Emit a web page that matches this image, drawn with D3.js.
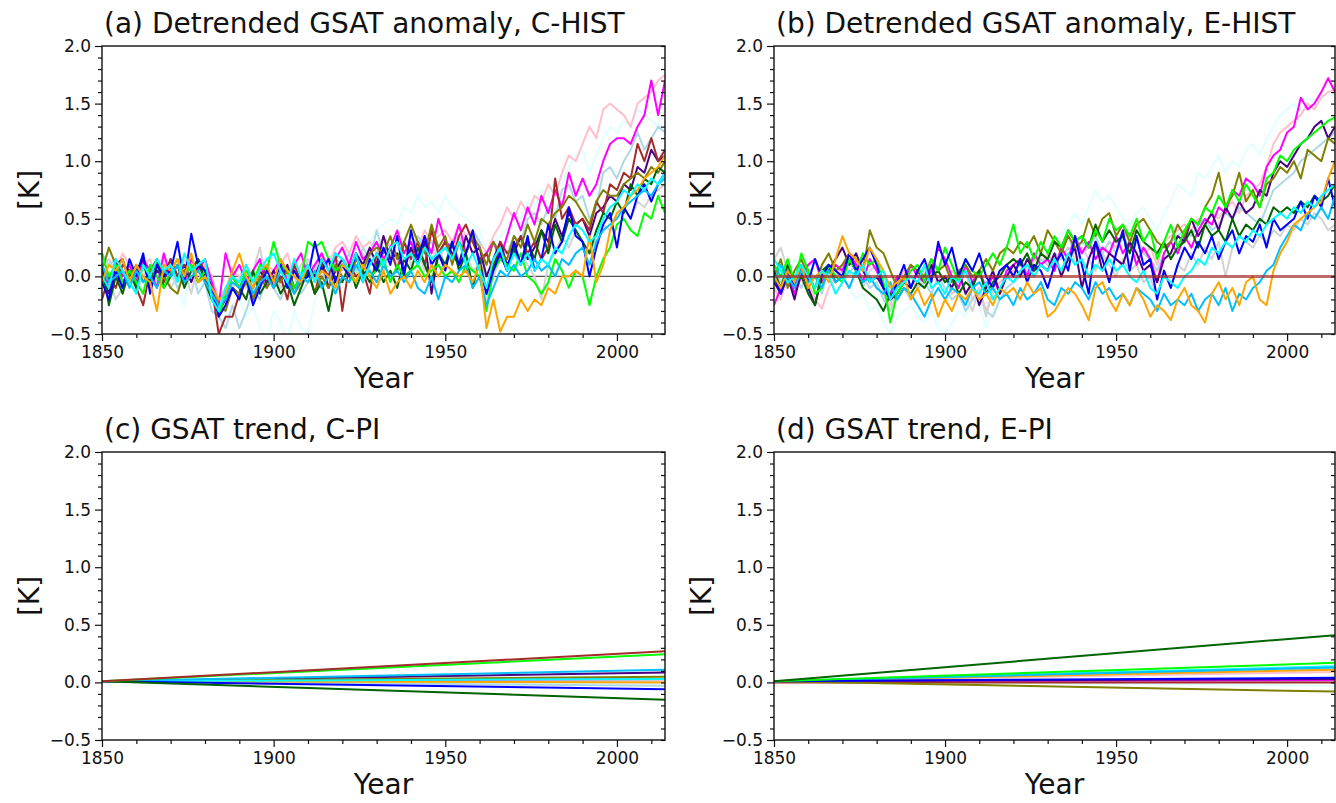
<!DOCTYPE html>
<html><head><meta charset="utf-8">
<script src="https://cdn.jsdelivr.net/npm/d3@7"></script>
<style>body{margin:0;background:#fff} svg{display:block} text{font-family:"DejaVu Sans",sans-serif;fill:#111}</style>
</head><body><svg id="chart" width="1336" height="803"></svg>
<script>
// ---------- categories ----------
const years = [1850,1852,1854,1856,1858,1860,1862,1864,1866,1868,1870,1872,1874,1876,1878,1880,1882,1884,1886,1888,
1890,1892,1894,1896,1898,1900,1902,1904,1906,1908,1910,1912,1914,1916,1918,1920,1922,1924,1926,1928,
1930,1932,1934,1936,1938,1940,1942,1944,1946,1948,1950,1952,1954,1956,1958,1960,1962,1964,1966,1968,
1970,1972,1974,1976,1978,1980,1982,1984,1986,1988,1990,1992,1994,1996,1998,2000,2002,2004,2006,2008,
2010,2012,2014];
const xTicksMajor = [1850, 1900, 1950, 2000];
const xTicksMinor = [1860,1870,1880,1890,1910,1920,1930,1940,1960,1970,1980,1990,2010];
const yTicksMajor = [-0.5, 0.0, 0.5, 1.0, 1.5, 2.0];
const yTicksMinor = [-0.4,-0.3,-0.2,-0.1,0.1,0.2,0.3,0.4,0.6,0.7,0.8,0.9,1.1,1.2,1.3,1.4,1.6,1.7,1.8,1.9];
const titles = ["(a) Detrended GSAT anomaly, C-HIST","(b) Detrended GSAT anomaly, E-HIST","(c) GSAT trend, C-PI","(d) GSAT trend, E-PI"];

// ---------- panel (a): C-HIST ----------
const a_lightcyan = [0.1,0.2,0.0,0.15,0.05, 0.1,0.2,0.05,0.1,-0.05, 0.0,-0.1,-0.25,0.05,-0.1, 0.0,-0.15,-0.2,-0.35,-0.3,
-0.2,-0.35,-0.25,-0.45,-0.55, -0.3,-0.4,-0.55,-0.3,-0.45, -0.5,-0.2,-0.1,0.05,0.1, 0.15,0.25,0.3,0.35,0.3,
0.4,0.45,0.5,0.45,0.6, 0.55,0.7,0.6,0.65,0.55, 0.7,0.6,0.55,0.5,0.45, 0.4,0.2,0.3,0.35,0.4,
0.55,0.5,0.65,0.6,0.75, 0.7,0.85,0.8,0.95,1.05, 1.1,0.9,1.05,1.2,1.3, 1.25,1.35,1.3,1.45,1.4, 1.35,1.3,1.45];
const a_pink = [0.1,0.15,0.05,0.2,0.1, 0.0,0.1,0.15,-0.05,0.05, 0.1,0.0,0.15,0.05,-0.05, 0.1,0.0,-0.2,-0.1,0.05,
0.0,0.1,0.0,-0.05,0.1, 0.05,0.1,0.2,0.0,0.1, 0.15,0.05,0.2,0.1,0.25, 0.3,0.2,0.35,0.25,0.3,
0.2,0.35,0.25,0.3,0.2, 0.35,0.25,0.4,0.3,0.35, 0.4,0.3,0.45,0.35,0.4, 0.3,0.2,0.35,0.45,0.6,
0.5,0.65,0.55,0.7,0.65, 0.8,0.7,0.9,1.05,1.0, 1.15,1.3,1.2,1.45,1.5, 1.45,1.4,1.3,1.5,1.55, 1.6,1.7,1.75];
const a_lightblue = [0.2,0.1,0.15,0.0,0.05, -0.05,0.1,0.0,0.15,-0.1, 0.05,-0.1,0.0,0.1,-0.15, -0.05,-0.3,-0.35,-0.45,-0.25,
-0.45,-0.3,-0.1,-0.2,0.0, -0.1,-0.2,-0.05,0.0,-0.15, -0.05,0.1,0.05,-0.1,0.15, 0.1,0.2,0.05,0.25,0.15,
0.4,0.2,0.25,0.15,0.3, 0.2,0.35,0.25,0.3,0.15, 0.25,0.3,0.35,0.2,0.4, 0.3,-0.15,0.1,0.25,0.2,
0.35,0.3,0.5,0.55,0.45, 0.6,0.5,0.75,0.8,0.65, 0.7,0.5,0.6,0.9,0.95, 0.85,1.0,1.1,1.25,1.1, 1.2,1.3,1.25];
const a_lightgray = [0.1,0.0,-0.2,-0.1,0.05, -0.15,0.0,0.1,-0.05,0.15, -0.1,0.0,0.05,-0.15,0.1, -0.05,-0.2,-0.3,-0.25,-0.1,
0.0,-0.1,0.05,0.25,-0.05, 0.05,-0.1,0.0,0.1,-0.05, 0.15,0.05,-0.1,0.0,0.1, 0.05,0.15,0.0,0.2,0.1,
0.15,0.05,0.2,0.1,0.3, 0.1,0.2,0.05,0.15,0.25, 0.1,0.3,0.15,0.2,0.05, 0.1,-0.2,0.0,0.15,0.1,
0.05,0.2,0.1,0.0,-0.2, 0.1,0.2,0.35,0.25,0.4, 0.3,0.2,0.35,0.45,0.4, 0.55,0.6,0.5,0.65,0.6, 0.7,0.75,0.8];
const a_magenta = [0.05,-0.1,0.15,0.0,0.1, -0.05,0.15,0.05,-0.1,0.2, 0.0,0.1,-0.05,0.15,0.05, 0.15,-0.05,-0.25,0.2,0.0,
0.1,-0.05,0.05,0.15,-0.1, 0.05,0.15,-0.05,0.1,0.2, 0.0,0.1,0.2,0.05,0.15, 0.25,0.1,0.3,0.15,0.2,
0.3,0.15,0.25,0.4,0.2, 0.3,0.15,0.35,0.2,0.5, 0.3,0.25,0.45,0.2,0.35, 0.1,0.2,0.3,0.15,0.35,
0.55,0.4,0.6,0.45,0.7, 0.55,0.75,0.6,0.9,0.7, 0.85,0.7,0.8,1.0,1.15, 1.2,1.2,1.15,1.3,1.4, 1.7,1.4,1.7];
const a_indigo = [0.0,-0.15,0.1,0.15,-0.05, 0.05,0.15,-0.1,0.05,0.0, 0.15,0.0,0.1,-0.05,0.1, 0.0,-0.15,-0.3,-0.2,-0.1,
-0.15,0.0,-0.1,0.05,-0.05, 0.05,-0.05,0.1,-0.1,0.0, 0.1,0.0,0.15,-0.1,0.05, 0.15,0.05,0.2,0.1,0.25,
0.1,0.35,0.15,0.2,0.05, 0.25,0.1,0.3,-0.15,0.2, 0.3,0.2,0.1,0.35,0.2, 0.25,0.0,0.15,0.3,0.1,
0.2,0.35,0.15,0.25,0.4, 0.3,0.5,0.35,0.55,0.45, 0.5,0.35,0.55,0.6,0.7, 0.65,0.8,0.75,0.95,0.9, 1.1,1.0,1.05];
const a_brown = [-0.2,0.0,-0.1,0.1,0.05, -0.1,-0.25,0.05,0.1,-0.05, 0.15,0.0,0.1,0.05,0.15, 0.05,-0.1,-0.5,-0.35,-0.35,
-0.15,0.0,-0.2,-0.05,0.1, -0.1,0.0,-0.2,0.1,-0.05, 0.05,-0.15,0.1,0.0,0.2, -0.3,0.1,0.0,0.05,-0.15,
0.2,0.1,0.25,0.05,0.3, 0.15,0.3,0.1,0.4,0.2, 0.3,0.15,0.35,0.45,0.3, 0.15,0.2,0.05,0.3,0.2,
0.25,0.35,0.2,0.3,0.15, 0.25,0.85,0.5,0.6,0.45, 0.5,0.4,0.65,0.55,0.8, 0.75,0.9,0.85,1.15,1.0, 1.2,1.0,1.1];
const a_olive = [0.05,0.25,0.1,-0.05,0.0, 0.1,-0.05,0.05,0.15,0.0, -0.1,-0.15,0.05,0.1,-0.05, 0.0,-0.1,-0.25,-0.3,-0.1,
-0.15,-0.05,-0.2,0.0,-0.1, 0.0,-0.05,0.05,-0.15,-0.05, 0.05,-0.15,0.0,-0.1,0.1, 0.0,-0.05,0.15,0.05,0.2,
0.25,0.2,0.35,0.15,0.3, 0.45,0.3,0.2,0.45,0.25, 0.35,0.1,0.3,0.2,0.35, 0.25,0.1,0.3,0.2,0.15,
0.35,0.25,0.45,0.3,0.5, 0.45,0.55,0.6,0.7,0.65, 0.55,0.45,0.65,0.75,0.7, 0.7,0.8,0.85,0.9,0.85, 0.95,0.9,1.0];
const a_darkgreen = [0.1,-0.25,0.0,-0.15,0.05, -0.1,0.1,-0.05,0.15,-0.1, 0.0,0.1,-0.1,0.05,0.15, -0.05,-0.2,-0.3,-0.15,0.0,
-0.1,-0.2,0.05,-0.15,-0.05, 0.0,-0.15,-0.05,-0.25,-0.1, 0.05,-0.15,-0.05,-0.3,0.0, -0.05,0.1,-0.1,0.05,-0.05,
0.1,-0.05,0.05,-0.1,0.15, 0.05,0.25,0.1,-0.05,0.2, 0.1,0.3,0.05,0.2,-0.1, 0.15,-0.15,0.1,0.2,0.05,
0.25,0.1,0.3,0.15,0.4, 0.2,0.45,0.3,0.5,0.4, 0.3,0.2,0.4,0.55,0.5, 0.65,0.55,0.8,0.7,0.85, 0.8,0.95,0.9];
const a_lime = [0.2,0.0,0.1,-0.05,0.05, -0.05,-0.15,0.1,0.0,-0.1, 0.05,0.15,0.0,0.1,-0.05, 0.05,-0.1,-0.35,-0.15,0.0,
-0.1,0.05,-0.05,0.1,0.05, 0.3,0.1,0.05,-0.1,0.0, 0.3,0.25,0.3,0.15,0.05, 0.1,0.0,-0.05,0.1,0.0,
0.05,0.15,-0.05,0.1,0.0, 0.05,0.1,0.0,0.05,0.1, 0.0,0.05,-0.05,0.1,0.05, 0.0,-0.3,0.05,0.15,0.1,
0.05,0.2,0.0,-0.05,-0.15, -0.05,0.15,0.05,-0.1,0.05, 0.0,-0.25,0.0,0.15,0.25, 0.45,0.5,0.4,0.35,0.55, 0.5,0.7,0.55];
const a_blue = [-0.05,-0.2,0.05,-0.1,0.15, 0.0,0.2,-0.15,0.1,0.0, 0.05,0.3,-0.05,0.37,0.1, 0.05,-0.1,-0.35,-0.25,-0.1,
-0.2,0.0,-0.25,-0.1,0.05, -0.05,0.1,-0.1,0.05,-0.05, 0.0,0.3,0.05,0.15,-0.05, 0.1,0.0,0.2,-0.05,0.15,
0.05,0.25,0.1,0.35,0.0, 0.4,0.15,0.35,0.1,0.2, 0.05,0.3,0.1,0.2,0.4, 0.1,-0.15,0.05,0.2,0.05,
0.3,0.1,0.35,0.05,0.15, 0.45,0.2,0.3,0.6,0.35, 0.3,0.0,0.25,0.45,0.55, 0.25,0.6,0.5,0.7,0.8, 0.65,0.8,0.9];
const a_deepskyblue = [0.1,-0.05,0.0,0.05,-0.1, 0.05,-0.05,0.0,-0.1,0.05, 0.0,0.1,-0.05,0.0,0.05, -0.05,-0.15,-0.25,-0.2,-0.05,
-0.1,0.0,-0.15,-0.05,0.0, -0.1,0.05,-0.05,-0.15,0.0, -0.05,0.05,-0.1,0.0,-0.15, 0.0,-0.05,0.1,0.0,0.05,
-0.05,0.1,0.0,0.05,-0.05, 0.05,-0.1,-0.15,0.0,-0.2, 0.0,-0.05,0.05,0.1,-0.1, 0.0,-0.25,-0.1,0.05,0.0,
0.1,0.0,0.05,0.15,0.05, 0.1,0.0,0.15,0.1,0.2, 0.25,0.1,0.3,0.4,0.45, 0.5,0.6,0.65,0.7,0.75, 0.7,0.8,0.85];
const a_orange = [-0.05,0.1,0.05,0.15,-0.05, 0.1,0.0,-0.05,-0.3,0.1, 0.05,0.15,0.0,0.2,-0.05, 0.0,-0.1,-0.2,-0.15,0.05,
0.2,0.0,-0.1,0.05,0.1, -0.05,0.15,0.05,0.0,-0.05, 0.1,-0.05,0.05,0.0,-0.1, 0.1,0.05,-0.05,0.1,0.0,
-0.1,0.05,-0.15,-0.05,0.0, -0.1,0.05,-0.05,0.1,0.0, 0.1,0.05,0.0,0.05,-0.05, 0.1,-0.45,-0.2,-0.48,-0.35,
-0.35,-0.2,-0.3,-0.2,-0.25, -0.1,-0.15,0.0,0.0,0.05, 0.0,0.35,-0.05,0.1,0.4, 0.55,0.6,0.7,0.75,0.85, 0.9,0.95,1.05];
const a_cyan = [0.0,-0.1,0.15,0.05,-0.05, -0.15,0.1,0.0,0.15,0.05, 0.1,-0.05,0.2,0.05,0.1, 0.15,-0.2,-0.3,-0.1,0.0,
-0.05,0.1,-0.05,0.05,0.15, 0.2,0.05,-0.05,0.15,0.0, 0.1,-0.05,0.15,0.05,0.2, 0.15,0.05,0.2,-0.05,0.1,
0.2,0.1,0.25,0.3,0.15, 0.2,0.1,0.25,0.15,0.2, 0.25,0.15,0.3,0.1,0.2, 0.05,-0.1,0.15,0.25,0.05,
0.2,0.1,0.2,0.05,0.15, 0.1,0.25,0.2,0.35,0.45, 0.4,0.3,0.35,0.5,0.6, 0.65,0.75,0.7,0.8,0.75, 0.85,0.8,0.9];

// ---------- panel (b): E-HIST ----------
const b_lightcyan = [0.05,0.1,0.0,0.15,0.05, 0.1,-0.05,0.05,0.0,0.1, 0.05,-0.1,-0.2,-0.15,-0.3, -0.25,-0.4,-0.5,-0.35,-0.3,
-0.25,-0.35,-0.4,-0.3,-0.45, -0.5,-0.4,-0.3,-0.35,-0.2, -0.25,-0.45,-0.3,-0.15,-0.05, 0.0,0.05,0.15,0.1,0.2,
0.25,0.3,0.35,0.45,0.55, 0.45,0.6,0.75,0.65,0.7, 0.6,0.5,0.45,0.55,0.6, 0.5,0.4,0.55,0.65,0.8,
0.75,0.7,0.9,0.85,0.95, 1.05,0.9,1.0,0.95,1.1, 1.15,1.05,1.2,1.3,1.4, 1.45,1.5,1.4,1.55,1.5, 1.55,1.6,1.55];
const b_pink = [-0.1,-0.2,0.0,-0.1,0.05, -0.05,-0.2,-0.28,-0.1,0.0, 0.1,0.2,0.15,0.05,0.0, -0.1,-0.15,-0.25,-0.1,0.05,
0.0,-0.1,0.05,0.15,-0.05, 0.0,-0.15,-0.1,0.05,-0.2, -0.1,-0.3,-0.15,-0.05,0.0, 0.05,0.1,0.0,0.15,0.1,
0.2,0.1,0.25,0.15,0.3, 0.2,0.25,0.35,0.2,0.3, 0.25,0.4,0.3,0.35,0.2, 0.25,0.1,0.3,0.35,0.4,
0.45,0.4,0.5,0.45,0.55, 0.5,0.6,0.65,0.55,0.7, 0.75,0.8,0.95,1.15,1.25, 1.3,1.35,1.4,1.5,1.45, 1.55,1.6,1.62];
const b_lightblue = [0.1,-0.05,0.05,0.0,-0.1, 0.05,0.0,-0.15,0.1,-0.05, 0.0,-0.1,0.05,0.0,-0.1, -0.05,-0.2,-0.3,-0.15,-0.1,
-0.2,-0.1,-0.05,-0.15,0.0, -0.1,-0.2,-0.15,-0.3,-0.2, -0.15,-0.3,-0.35,-0.2,-0.1, -0.05,0.0,0.1,0.05,0.15,
0.1,0.2,0.15,0.25,0.2, 0.3,0.25,0.35,0.2,0.3, 0.2,0.35,0.25,0.3,0.2, 0.15,0.05,0.2,0.3,0.35,
0.4,0.35,0.45,0.5,0.4, 0.45,0.55,0.5,0.6,0.55, 0.5,0.45,0.6,0.75,0.8, 0.85,0.9,1.0,1.05,1.1, 1.15,1.2,1.25];
const b_lightgray = [0.15,0.25,0.05,-0.05,0.1, 0.05,-0.1,-0.05,0.1,0.0, 0.05,0.0,0.15,-0.1,0.05, 0.1,-0.15,-0.3,-0.1,0.0,
0.1,0.0,-0.1,0.05,0.0, -0.05,0.05,0.0,-0.15,-0.3, -0.1,-0.35,-0.1,0.05,0.1, 0.0,0.15,0.05,0.2,0.1,
0.15,0.05,0.2,0.4,0.1, 0.25,0.15,0.05,0.2,0.1, 0.0,0.15,0.05,0.1,-0.05, 0.0,-0.2,0.05,-0.1,0.1,
0.05,0.2,0.1,0.25,0.15, 0.3,0.0,0.25,0.35,0.3, 0.25,0.35,0.3,0.4,0.35, 0.45,0.4,0.5,0.45,0.55, 0.5,0.4,0.45];
const b_magenta = [-0.25,-0.1,0.05,-0.15,0.0, 0.1,0.15,-0.05,0.05,0.1, 0.05,0.2,0.1,-0.05,0.15, 0.05,-0.1,-0.15,0.0,-0.05,
0.1,0.0,-0.05,0.05,0.25, 0.15,0.0,-0.1,0.1,-0.05, 0.05,-0.1,0.0,-0.15,0.05, 0.1,0.15,0.0,0.2,0.1,
0.15,0.05,0.25,0.15,0.35, 0.2,0.3,0.15,0.25,0.2, 0.35,0.2,0.3,0.1,0.25, 0.15,-0.05,0.2,0.3,0.2,
0.35,0.25,0.4,0.5,0.45, 0.6,0.55,0.75,0.7,0.85, 0.8,0.7,0.95,1.05,1.1, 1.25,1.3,1.55,1.45,1.5, 1.6,1.72,1.6];
const b_indigo = [-0.05,-0.15,0.0,-0.2,0.05, -0.1,-0.25,0.0,0.05,0.15, 0.25,0.1,0.2,0.05,-0.05, 0.0,-0.1,-0.2,-0.15,-0.05,
-0.1,0.05,-0.05,0.1,-0.05, 0.0,-0.1,0.05,-0.15,-0.05, -0.25,-0.1,0.05,-0.15,0.0, 0.1,0.0,0.15,0.05,0.1,
0.05,0.2,0.0,0.15,0.25, -0.1,0.15,0.3,0.05,0.2, 0.15,0.1,0.3,0.2,0.05, 0.1,-0.05,0.15,0.2,0.35,
0.3,0.5,0.35,0.45,0.55, 0.4,0.6,0.5,0.65,0.55, 0.6,0.75,0.7,0.9,1.0, 0.95,1.05,1.15,1.2,1.3, 1.35,1.2,1.3];
const b_olive = [0.0,0.15,-0.1,0.05,0.15, 0.0,-0.1,0.1,0.2,0.05, 0.1,0.2,0.15,0.05,0.4, 0.25,0.2,0.05,-0.1,0.0,
0.1,0.05,0.0,0.15,0.05, 0.1,-0.05,0.05,0.1,0.0, 0.05,0.15,0.05,0.2,0.25, 0.2,0.3,0.25,0.35,0.2,
0.4,0.3,0.2,0.35,0.25, 0.3,0.5,0.35,0.5,0.55, 0.35,0.45,0.3,0.45,0.5, 0.4,0.3,0.25,0.3,0.45,
0.35,0.5,0.45,0.6,0.7, 0.9,0.6,0.7,0.9,0.65, 0.75,0.6,0.8,0.85,0.95, 0.9,1.0,0.85,1.1,1.05, 1.0,1.2,1.15];
const b_darkgreen = [0.05,-0.1,0.1,-0.05,0.0, -0.15,-0.25,0.05,0.1,-0.05, 0.0,0.15,0.05,-0.1,-0.15, -0.2,-0.3,-0.15,-0.2,-0.1,
-0.15,-0.05,-0.1,0.0,0.05, -0.05,0.0,-0.15,-0.05,-0.1, 0.05,-0.15,-0.05,0.0,0.1, 0.15,0.1,0.2,0.05,0.2,
0.15,0.3,0.25,0.4,0.3, 0.35,0.25,0.45,0.3,0.4, 0.3,0.35,0.2,0.4,0.3, 0.25,0.2,0.3,0.15,0.25,
0.3,0.4,0.25,0.45,0.35, 0.4,0.3,0.5,0.35,0.45, 0.4,0.5,0.45,0.6,0.55, 0.6,0.55,0.65,0.6,0.7, 0.65,0.7,0.8];
const b_lime = [0.1,0.0,0.15,-0.05,0.2, 0.05,-0.15,-0.1,0.1,0.0, -0.05,0.15,0.05,0.2,0.1, 0.15,-0.05,-0.4,-0.15,-0.05,
0.05,0.1,-0.05,0.15,0.05, 0.25,0.1,-0.05,0.15,0.05, 0.0,0.1,0.2,0.1,0.25, 0.45,0.2,0.3,0.15,0.3,
0.2,0.35,0.25,0.4,0.3, 0.35,0.25,0.4,0.3,0.5, 0.4,0.45,0.35,0.5,0.3, 0.4,0.15,0.3,0.45,0.25,
0.4,0.5,0.45,0.6,0.55, 0.7,0.6,0.75,0.65,0.8, 0.7,0.6,0.85,0.9,1.05, 1.0,1.1,1.15,1.2,1.25, 1.3,1.35,1.38];
const b_blue = [0.0,-0.15,0.05,-0.1,0.1, -0.05,0.15,0.0,0.1,0.05, 0.0,0.2,0.05,0.15,0.25, 0.1,-0.1,-0.2,-0.05,0.1,
-0.1,0.05,0.15,-0.05,0.3, 0.1,0.25,0.0,0.15,0.05, 0.2,0.0,-0.1,0.05,0.1, 0.0,0.15,-0.05,0.1,0.05,
-0.1,0.1,0.2,0.05,0.35, 0.1,-0.15,0.3,0.15,-0.05, 0.2,0.4,0.05,0.35,0.1, 0.15,-0.2,0.05,-0.1,0.1,
0.25,0.15,0.3,0.2,0.35, 0.15,0.3,0.4,0.2,0.35, 0.3,0.45,0.25,0.5,0.4, 0.45,0.5,0.65,0.5,0.7, 0.6,0.85,0.6];
const b_deepskyblue = [-0.05,0.1,0.0,-0.1,0.05, -0.05,0.0,-0.1,0.05,-0.05, 0.0,-0.1,0.05,-0.05,0.0, -0.1,-0.15,-0.05,-0.2,-0.1,
-0.15,-0.25,-0.35,-0.2,-0.1, -0.2,-0.1,-0.15,-0.25,-0.1, -0.05,-0.15,-0.1,-0.2,-0.15, -0.25,-0.1,-0.2,-0.15,-0.05,
-0.2,-0.25,-0.1,-0.15,-0.05, -0.1,-0.2,-0.05,-0.15,-0.1, -0.2,-0.15,-0.25,-0.1,-0.15, -0.2,-0.3,-0.15,-0.25,-0.2,
-0.25,-0.15,-0.3,-0.2,-0.15, -0.25,-0.1,-0.3,-0.15,-0.2, -0.1,-0.05,0.05,0.1,0.25, 0.35,0.45,0.4,0.55,0.5, 0.6,0.5,0.7];
const b_orange = [0.0,-0.1,0.05,-0.05,0.1, -0.1,0.0,0.05,-0.05,0.15, 0.35,0.2,0.15,0.05,0.25, 0.15,0.05,-0.1,-0.05,0.0,
-0.2,-0.1,-0.25,-0.15,-0.35, -0.2,-0.3,-0.15,-0.2,-0.1, -0.2,-0.15,-0.25,-0.1,-0.15, -0.1,-0.2,-0.05,-0.15,-0.1,
-0.35,-0.3,-0.2,-0.1,-0.15, -0.25,-0.38,-0.1,-0.05,-0.2, -0.3,-0.15,-0.25,-0.1,-0.2, -0.35,-0.25,-0.3,-0.38,-0.2,
-0.1,-0.25,-0.3,-0.4,-0.15, -0.05,-0.2,-0.1,-0.25,-0.05, 0.0,-0.2,-0.25,0.05,0.2, 0.3,0.45,0.5,0.55,0.6, 0.65,0.85,1.0];
const b_cyan = [0.15,0.05,-0.05,0.0,0.1, 0.0,-0.1,0.05,0.0,-0.15, -0.05,0.05,0.0,0.1,-0.05, 0.0,0.05,-0.2,-0.1,-0.05,
0.0,-0.05,0.1,-0.1,-0.05, -0.15,0.0,-0.05,0.05,-0.1, -0.15,-0.05,-0.2,-0.1,0.0, -0.05,0.05,0.1,0.0,0.1,
0.05,0.15,0.05,0.2,0.1, 0.15,0.0,0.1,0.05,0.15, 0.05,0.1,0.0,-0.05,0.05, -0.1,-0.15,0.0,-0.05,-0.1,
0.0,0.05,0.15,0.1,0.25, 0.2,0.3,0.25,0.35,0.3, 0.4,0.35,0.45,0.5,0.55, 0.5,0.6,0.55,0.65,0.6, 0.7,0.75,0.8];
const b_brown = [0,0,0,0,0, 0,0,0,0,0, 0,0,0,0,0, 0,0,0,0,0, 0,0,0,0,0, 0,0,0,0,0, 0,0,0,0,0, 0,0,0,0,0,
0,0,0,0,0, 0,0,0,0,0, 0,0,0,0,0, 0,0,0,0,0, 0,0,0,0,0, 0,0,0,0,0, 0,0,0,0,0, 0,0,0,0,0, 0,0,0];

// ---------- panels (c) and (d): linear trends, value at 1850 and at 2014 ----------
const trendYears = [1850, 2014];
const c_names = ["lightcyan","pink","lightblue","lightgray","magenta","indigo","olive","orange","cyan","deepskyblue","blue","darkgreen","lime","brown"];
const c_start = [0.01,0.01,0.01,0.01,0.01,0.01,0.01,0.01,0.01,0.01,0.01,0.01,0.01,0.01];
const c_end   = [-0.01,0.02,-0.03,0.01,0.03,0.085,0.05,0.0,0.03,0.11,-0.06,-0.15,0.245,0.27];
const d_names = ["lightcyan","pink","lightblue","lightgray","magenta","indigo","brown","olive","orange","cyan","deepskyblue","blue","lime","darkgreen"];
const d_start = [0.01,0.01,0.01,0.01,0.01,0.01,0.0,0.01,0.01,0.01,0.01,0.01,0.01,0.01];
const d_end   = [-0.03,0.09,0.12,0.01,0.02,0.03,0.0,-0.08,0.11,0.14,0.13,0.04,0.17,0.41];

const colors = {blue:"#0000ff",darkgreen:"#006400",lime:"#00ff00",magenta:"#ff00ff",pink:"#ffc0cb",lightblue:"#add8e6",
  lightcyan:"#e0ffff",brown:"#a52a2a",indigo:"#4b0082",olive:"#808000",orange:"#ffa500",cyan:"#00ffff",
  deepskyblue:"#00bfff",lightgray:"#d3d3d3"};

const seriesA = [["lightcyan",a_lightcyan],["pink",a_pink],["lightblue",a_lightblue],["lightgray",a_lightgray],
  ["magenta",a_magenta],["indigo",a_indigo],["brown",a_brown],["olive",a_olive],["darkgreen",a_darkgreen],
  ["lime",a_lime],["blue",a_blue],["deepskyblue",a_deepskyblue],["orange",a_orange],["cyan",a_cyan]];
const seriesB = [["lightcyan",b_lightcyan],["pink",b_pink],["lightblue",b_lightblue],["lightgray",b_lightgray],
  ["magenta",b_magenta],["indigo",b_indigo],["olive",b_olive],["darkgreen",b_darkgreen],["lime",b_lime],
  ["blue",b_blue],["deepskyblue",b_deepskyblue],["orange",b_orange],["cyan",b_cyan]];

const svg = d3.select("#chart");
const panels = [
  {id:"a", left:102, right:665, top:46, bottom:334, title:titles[0]},
  {id:"b", left:774, right:1335, top:46, bottom:334, title:titles[1]},
  {id:"c", left:102, right:665, top:452, bottom:740, title:titles[2]},
  {id:"d", left:774, right:1335, top:452, bottom:740, title:titles[3]}
];

function drawPanel(p, draw) {
  const x = d3.scaleLinear().domain([1850, 2014]).range([p.left, p.right]);
  const y = d3.scaleLinear().domain([-0.5, 2.0]).range([p.bottom, p.top]);
  svg.append("clipPath").attr("id","clip"+p.id).append("rect")
    .attr("x",p.left).attr("y",p.top).attr("width",p.right-p.left).attr("height",p.bottom-p.top);
  const g = svg.append("g").attr("clip-path","url(#clip"+p.id+")");
  draw(g, x, y);
  const fmt = d3.format(".1f");
  const clean = s => s.call(a => a.select(".domain").remove());
  svg.append("g").attr("transform",`translate(${p.left},0)`)
    .call(d3.axisLeft(y).tickValues(yTicksMajor).tickSize(7).tickPadding(4).tickFormat(fmt)).call(clean)
    .call(a => a.selectAll("text").attr("font-size",17).attr("font-family","DejaVu Sans").attr("fill","#111"));
  svg.append("g").attr("transform",`translate(${p.left},0)`)
    .call(d3.axisLeft(y).tickValues(yTicksMinor).tickSize(4).tickFormat("")).call(clean);
  svg.append("g").attr("transform",`translate(${p.right},0)`)
    .call(d3.axisRight(y).tickValues(yTicksMajor.concat(yTicksMinor)).tickSize(-4).tickFormat("")).call(clean);
  svg.append("g").attr("transform",`translate(0,${p.bottom})`)
    .call(d3.axisBottom(x).tickValues(xTicksMajor).tickSize(7).tickPadding(5).tickFormat(d3.format("d"))).call(clean)
    .call(a => a.selectAll("text").attr("font-size",17).attr("font-family","DejaVu Sans").attr("fill","#111"));
  svg.append("g").attr("transform",`translate(0,${p.bottom})`)
    .call(d3.axisBottom(x).tickValues(xTicksMinor).tickSize(4).tickFormat("")).call(clean);
  svg.selectAll(".tick line").attr("stroke","#111").attr("stroke-width",1.2);
  svg.append("rect").attr("x",p.left).attr("y",p.top).attr("width",p.right-p.left).attr("height",p.bottom-p.top)
    .attr("fill","none").attr("stroke","#111").attr("stroke-width",1.4);
  svg.append("text").attr("x",p.left+2).attr("y",p.top-13).attr("font-size",28).text(p.title);
  svg.append("text").attr("x",(p.left+p.right)/2).attr("y",p.bottom+54).attr("text-anchor","middle")
    .attr("font-size",28).text("Year");
  svg.append("text").attr("transform",`translate(${p.left-73},${(p.top+p.bottom)/2}) rotate(-90)`)
    .attr("text-anchor","middle").attr("dominant-baseline","central").attr("font-size",28).text("[K]");
}

function noisyPanel(series, zeroStyle) {
  return (g, x, y) => {
    const line = d3.line().x((d,i) => x(years[i])).y(d => y(d));
    if (zeroStyle === "grey")
      g.append("line").attr("x1",x(1850)).attr("x2",x(2014)).attr("y1",y(0)).attr("y2",y(0))
        .attr("stroke","#555").attr("stroke-width",1.3);
    series.forEach(([c, vals]) => {
      g.append("path").datum(vals).attr("d",line).attr("fill","none")
        .attr("stroke",colors[c]).attr("stroke-width",2).attr("stroke-linejoin","round");
    });
    if (zeroStyle === "brown")
      g.append("path").datum(b_brown).attr("d",line).attr("fill","none")
        .attr("stroke",colors.brown).attr("stroke-opacity",0.7).attr("stroke-width",3);
  };
}
function trendPanel(names, starts, ends) {
  return (g, x, y) => {
    names.forEach((c, i) => {
      const pts = [starts[i], ends[i]];
      g.append("path").datum(pts)
        .attr("d", d3.line().x((d,j) => x(trendYears[j])).y(d => y(d)))
        .attr("fill","none").attr("stroke",colors[c]).attr("stroke-width",2);
    });
  };
}

drawPanel(panels[0], noisyPanel(seriesA, "grey"));
drawPanel(panels[1], noisyPanel(seriesB, "brown"));
drawPanel(panels[2], trendPanel(c_names, c_start, c_end));
drawPanel(panels[3], trendPanel(d_names, d_start, d_end));
</script></body></html>
